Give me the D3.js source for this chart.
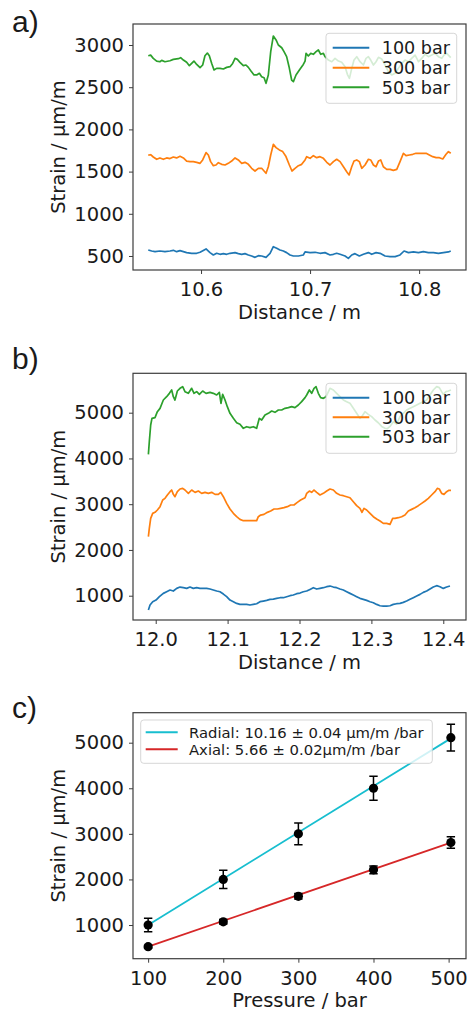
<!DOCTYPE html>
<html>
<head>
<meta charset="utf-8">
<script src="https://cdn.jsdelivr.net/npm/d3@7"></script>
<style>
  body { margin: 0; background: #fff; }
  svg { display: block; }
  text { font-family: "DejaVu Sans", sans-serif; fill: #1a1a1a; }
</style>
</head>
<body>
<svg id="fig" width="469" height="1012"></svg>
<script>
// ---------- a) strain along the fibre, 10.55 - 10.83 m ----------
const seriesNames = ["100 bar", "300 bar", "503 bar"];
const seriesColors = ["#1f77b4", "#ff7f0e", "#2ca02c"];

const strainA100 = [[10.5516,571],[10.5547,559],[10.5578,551],[10.5623,559],[10.5669,551],[10.5715,559],[10.5746,567],[10.5776,551],[10.5807,563],[10.5838,551],[10.5868,540],[10.5914,532],[10.5960,532],[10.5991,544],[10.6046,583],[10.6082,540],[10.6113,512],[10.6143,532],[10.6174,520],[10.6205,528],[10.6235,520],[10.6266,532],[10.6312,540],[10.6342,528],[10.6373,520],[10.6403,528],[10.6434,512],[10.6464,500],[10.6495,484],[10.6526,504],[10.6556,500],[10.6596,484],[10.6633,532],[10.6663,610],[10.6694,591],[10.6724,571],[10.6755,559],[10.6785,540],[10.6816,512],[10.6847,500],[10.6893,500],[10.6938,512],[10.6954,548],[10.7000,540],[10.7046,544],[10.7091,532],[10.7137,540],[10.7183,512],[10.7214,520],[10.7244,532],[10.7275,520],[10.7321,500],[10.7351,472],[10.7382,512],[10.7412,528],[10.7452,500],[10.7489,520],[10.7535,540],[10.7565,520],[10.7605,540],[10.7642,532],[10.7688,500],[10.7734,492],[10.7780,492],[10.7825,512],[10.7862,559],[10.7902,540],[10.7948,548],[10.7994,540],[10.8039,551],[10.8085,540],[10.8131,540],[10.8177,532],[10.8223,540],[10.8269,548],[10.8290,559]];

const strainA300 = [[10.5516,1696],[10.5538,1700],[10.5562,1673],[10.5593,1646],[10.5623,1662],[10.5654,1646],[10.5685,1662],[10.5715,1654],[10.5746,1673],[10.5776,1662],[10.5807,1681],[10.5838,1662],[10.5868,1625],[10.5899,1618],[10.5929,1618],[10.5960,1610],[10.5991,1598],[10.6015,1638],[10.6046,1725],[10.6067,1697],[10.6088,1618],[10.6113,1570],[10.6137,1578],[10.6159,1606],[10.6189,1586],[10.6220,1578],[10.6250,1598],[10.6281,1625],[10.6312,1662],[10.6342,1638],[10.6373,1598],[10.6403,1610],[10.6434,1586],[10.6464,1539],[10.6495,1507],[10.6526,1539],[10.6556,1539],[10.6578,1507],[10.6596,1480],[10.6617,1558],[10.6639,1697],[10.6663,1823],[10.6688,1784],[10.6718,1757],[10.6749,1737],[10.6779,1678],[10.6810,1578],[10.6834,1507],[10.6862,1539],[10.6893,1570],[10.6923,1586],[10.6954,1638],[10.6969,1677],[10.7000,1657],[10.7030,1689],[10.7061,1665],[10.7091,1677],[10.7122,1657],[10.7153,1610],[10.7183,1578],[10.7214,1618],[10.7244,1646],[10.7275,1618],[10.7306,1558],[10.7336,1499],[10.7358,1460],[10.7382,1558],[10.7403,1625],[10.7428,1638],[10.7452,1618],[10.7474,1539],[10.7504,1578],[10.7535,1646],[10.7556,1638],[10.7581,1578],[10.7605,1558],[10.7627,1625],[10.7648,1638],[10.7672,1558],[10.7703,1527],[10.7734,1527],[10.7764,1515],[10.7795,1527],[10.7825,1618],[10.7856,1717],[10.7880,1689],[10.7911,1697],[10.7942,1705],[10.7972,1717],[10.8003,1717],[10.8033,1717],[10.8064,1717],[10.8094,1697],[10.8125,1677],[10.8156,1665],[10.8186,1665],[10.8217,1650],[10.8247,1705],[10.8269,1737],[10.8290,1717]];

const strainA503 = [[10.5516,2873],[10.5538,2880],[10.5562,2842],[10.5593,2810],[10.5623,2802],[10.5639,2818],[10.5669,2802],[10.5715,2814],[10.5746,2830],[10.5792,2838],[10.5813,2850],[10.5838,2822],[10.5868,2795],[10.5893,2755],[10.5914,2782],[10.5935,2810],[10.5960,2770],[10.5991,2731],[10.6015,2763],[10.6036,2873],[10.6058,2905],[10.6076,2873],[10.6098,2782],[10.6119,2704],[10.6143,2723],[10.6174,2723],[10.6205,2716],[10.6235,2735],[10.6266,2743],[10.6290,2782],[10.6312,2842],[10.6333,2830],[10.6357,2795],[10.6388,2755],[10.6412,2763],[10.6434,2735],[10.6458,2692],[10.6486,2645],[10.6510,2645],[10.6535,2665],[10.6556,2625],[10.6578,2613],[10.6596,2546],[10.6617,2645],[10.6639,2921],[10.6663,3107],[10.6688,3060],[10.6709,3000],[10.6740,2968],[10.6761,2921],[10.6785,2862],[10.6807,2743],[10.6831,2585],[10.6847,2566],[10.6871,2645],[10.6902,2704],[10.6938,2770],[10.6954,2810],[10.6963,2901],[10.6984,2870],[10.7006,2901],[10.7030,2890],[10.7055,2921],[10.7076,2941],[10.7098,2890],[10.7122,2901],[10.7137,2862],[10.7168,2822],[10.7199,2802],[10.7229,2842],[10.7260,2810],[10.7290,2795],[10.7321,2743],[10.7342,2653],[10.7361,2605],[10.7382,2723],[10.7403,2822],[10.7428,2862],[10.7458,2802],[10.7489,2763],[10.7513,2842],[10.7535,2862],[10.7556,2822],[10.7581,2763],[10.7605,2802],[10.7627,2854],[10.7657,2834],[10.7688,2763],[10.7718,2684],[10.7749,2645],[10.7780,2665],[10.7810,2723],[10.7841,2782],[10.7871,2822],[10.7902,2802],[10.7932,2842],[10.7963,2881],[10.7994,2802],[10.8024,2842],[10.8055,2890],[10.8085,2862],[10.8116,2881],[10.8146,2901],[10.8177,2862],[10.8208,2842],[10.8229,2881],[10.8253,2901],[10.8290,2850]];

// ---------- b) strain along the fibre, 11.99 - 12.41 m ----------
const strainB100 = [[11.9898,687],[11.9921,796],[11.9958,869],[12.0004,905],[12.0051,978],[12.0106,1051],[12.0152,1087],[12.0199,1124],[12.0245,1102],[12.0292,1160],[12.0338,1189],[12.0384,1175],[12.0431,1160],[12.0477,1189],[12.0523,1160],[12.0570,1175],[12.0616,1160],[12.0663,1160],[12.0709,1160],[12.0755,1146],[12.0801,1124],[12.0848,1102],[12.0894,1087],[12.0941,1036],[12.0987,978],[12.1033,905],[12.1080,869],[12.1126,832],[12.1172,810],[12.1219,810],[12.1265,810],[12.1311,796],[12.1358,810],[12.1404,825],[12.1451,869],[12.1497,883],[12.1543,898],[12.1590,920],[12.1636,927],[12.1682,942],[12.1729,956],[12.1775,956],[12.1822,978],[12.1868,1000],[12.1914,1015],[12.1961,1044],[12.2007,1058],[12.2053,1087],[12.2100,1102],[12.2146,1138],[12.2192,1175],[12.2239,1146],[12.2285,1160],[12.2332,1175],[12.2378,1197],[12.2424,1211],[12.2471,1189],[12.2517,1175],[12.2563,1146],[12.2610,1124],[12.2656,1087],[12.2702,1051],[12.2749,1015],[12.2795,978],[12.2841,942],[12.2888,920],[12.2934,898],[12.2981,869],[12.3027,847],[12.3073,810],[12.3120,781],[12.3166,774],[12.3212,774],[12.3259,781],[12.3305,810],[12.3351,825],[12.3398,832],[12.3444,854],[12.3490,883],[12.3537,920],[12.3583,956],[12.3630,993],[12.3676,1029],[12.3722,1073],[12.3769,1102],[12.3815,1146],[12.3861,1189],[12.3908,1219],[12.3954,1197],[12.4000,1160],[12.4047,1189],[12.4093,1211]];

const strainB300 = [[11.9898,2290],[11.9911,2472],[11.9930,2691],[11.9958,2800],[11.9990,2822],[12.0023,2873],[12.0060,2946],[12.0097,3091],[12.0129,3128],[12.0162,3201],[12.0199,3273],[12.0222,3310],[12.0245,3215],[12.0268,3164],[12.0301,3273],[12.0338,3332],[12.0375,3346],[12.0407,3310],[12.0454,3237],[12.0500,3310],[12.0547,3259],[12.0593,3288],[12.0639,3237],[12.0686,3259],[12.0732,3237],[12.0778,3259],[12.0825,3215],[12.0871,3215],[12.0904,3259],[12.0941,3164],[12.0987,3018],[12.1033,2895],[12.1080,2800],[12.1126,2727],[12.1172,2669],[12.1219,2640],[12.1265,2640],[12.1311,2640],[12.1358,2640],[12.1404,2640],[12.1427,2727],[12.1460,2763],[12.1506,2778],[12.1553,2822],[12.1599,2851],[12.1646,2895],[12.1692,2895],[12.1738,2909],[12.1784,2924],[12.1831,2946],[12.1877,2982],[12.1923,2982],[12.1970,3040],[12.2016,3091],[12.2077,3142],[12.2100,3237],[12.2137,3288],[12.2169,3259],[12.2202,3310],[12.2239,3259],[12.2285,3201],[12.2332,3237],[12.2378,3288],[12.2424,3332],[12.2471,3310],[12.2517,3237],[12.2563,3201],[12.2610,3186],[12.2656,3164],[12.2702,3142],[12.2749,3055],[12.2795,2968],[12.2841,2909],[12.2869,2822],[12.2897,2909],[12.2934,2873],[12.2981,2800],[12.3027,2727],[12.3073,2676],[12.3120,2632],[12.3166,2581],[12.3212,2581],[12.3259,2560],[12.3296,2691],[12.3328,2691],[12.3375,2705],[12.3421,2727],[12.3467,2763],[12.3514,2851],[12.3560,2887],[12.3606,2924],[12.3653,2968],[12.3699,3018],[12.3746,3070],[12.3792,3128],[12.3838,3201],[12.3885,3273],[12.3917,3346],[12.3945,3332],[12.3977,3237],[12.4010,3215],[12.4047,3273],[12.4079,3303],[12.4107,3303]];

const strainB503 = [[11.9898,4090],[11.9911,4367],[11.9930,4731],[11.9948,4877],[11.9990,4891],[12.0023,5022],[12.0060,5095],[12.0106,5277],[12.0152,5350],[12.0190,5423],[12.0222,5496],[12.0245,5350],[12.0268,5277],[12.0301,5474],[12.0338,5533],[12.0375,5569],[12.0407,5460],[12.0454,5423],[12.0500,5533],[12.0533,5423],[12.0570,5460],[12.0607,5401],[12.0653,5474],[12.0700,5423],[12.0755,5445],[12.0801,5423],[12.0848,5387],[12.0885,5445],[12.0908,5205],[12.0931,5401],[12.0964,5277],[12.0996,5132],[12.1033,4986],[12.1080,4877],[12.1126,4782],[12.1172,4746],[12.1219,4658],[12.1265,4694],[12.1311,4673],[12.1358,4694],[12.1404,4658],[12.1441,4877],[12.1474,4840],[12.1520,4950],[12.1567,4986],[12.1613,5037],[12.1659,5008],[12.1706,5059],[12.1752,5059],[12.1798,5095],[12.1845,5110],[12.1891,5132],[12.1937,5110],[12.1984,5168],[12.2030,5241],[12.2077,5330],[12.2100,5387],[12.2137,5496],[12.2169,5423],[12.2202,5533],[12.2230,5569],[12.2262,5423],[12.2294,5328],[12.2332,5314],[12.2369,5350],[12.2424,5533],[12.2471,5496],[12.2517,5423],[12.2563,5350],[12.2610,5277],[12.2656,5241],[12.2702,5205],[12.2749,5095],[12.2795,4986],[12.2841,4877],[12.2865,4913],[12.2911,5022],[12.2957,4964],[12.3004,4913],[12.3050,4840],[12.3096,4780],[12.3143,4700],[12.3189,4660],[12.3222,4650],[12.3259,4700],[12.3305,4800],[12.3351,4750],[12.3398,4913],[12.3444,4986],[12.3490,5059],[12.3537,5095],[12.3583,5132],[12.3630,5168],[12.3676,5205],[12.3722,5241],[12.3769,5277],[12.3815,5387],[12.3861,5496],[12.3908,5569],[12.3945,5547],[12.3977,5460],[12.4000,5401],[12.4037,5460],[12.4070,5474],[12.4107,5496]];

// ---------- c) strain versus pressure ----------
const pressures = [100, 200, 300, 400, 503];
const radialStrain = [1000, 2000, 3000, 4000, 5110];
const radialError = [150, 200, 237, 263, 292];
const axialStrain = [525, 1071, 1630, 2210, 2810];
const axialError = [30, 50, 60, 85, 125];
const radialFit = { slope: 10.16, intercept: -16 };
const axialFit = { slope: 5.66, intercept: -41 };
const fitLabels = ["Radial: 10.16 \u00b1 0.04 \u00b5m/m /bar", "Axial: 5.66 \u00b1 0.02\u00b5m/m /bar"];
const fitColors = ["#17becf", "#d62728"];

// tick values
const ticksAX = [10.6, 10.7, 10.8];
const ticksAY = [500, 1000, 1500, 2000, 2500, 3000];
const ticksBX = [12.0, 12.1, 12.2, 12.3, 12.4];
const ticksBY = [1000, 2000, 3000, 4000, 5000];
const ticksCX = [100, 200, 300, 400, 500];
const ticksCY = [1000, 2000, 3000, 4000, 5000];

// ---------- drawing ----------
const svg = d3.select("#fig");
const left = 133, right = 466;
const tickFont = 19.5;
const ink = "#1a1a1a";
const spine = "#3d3d3d";

function makeAxes(cfg) {
  const x = d3.scaleLinear().domain(cfg.xDomain).range([left, right]);
  const y = d3.scaleLinear().domain(cfg.yDomain).range([cfg.bottom, cfg.top]);
  const g = svg.append("g");

  const gx = g.append("g")
    .attr("transform", `translate(0,${cfg.bottom})`)
    .call(d3.axisBottom(x).tickValues(cfg.xTicks).tickFormat(cfg.xFormat)
      .tickSize(4).tickSizeOuter(0).tickPadding(8));
  const gy = g.append("g")
    .attr("transform", `translate(${left},0)`)
    .call(d3.axisLeft(y).tickValues(cfg.yTicks).tickFormat(d3.format("d"))
      .tickSize(4).tickSizeOuter(0).tickPadding(5));
  [gx, gy].forEach(a => {
    a.select(".domain").remove();
    a.selectAll(".tick line").attr("stroke", spine).attr("stroke-width", 1);
    a.selectAll(".tick text").attr("fill", ink)
      .style("font-family", '"DejaVu Sans", sans-serif').style("font-size", tickFont + "px");
  });

  // axis titles
  g.append("text").attr("x", (left + right) / 2).attr("y", cfg.bottom + 48.5)
    .attr("text-anchor", "middle").style("font-size", tickFont + "px").text(cfg.xLabel);
  g.append("text")
    .attr("transform", `translate(65,${(cfg.top + cfg.bottom) / 2}) rotate(-90)`)
    .attr("text-anchor", "middle").style("font-size", tickFont + "px").text("Strain / \u00b5m/m");

  // panel tag
  g.append("text").attr("x", 12).attr("y", cfg.tagY)
    .style("font-family", '"Liberation Sans", Arial, sans-serif').style("font-size", "30px")
    .text(cfg.tag);

  const clipId = "clip-" + cfg.tag.replace(")", "");
  g.append("clipPath").attr("id", clipId).append("rect")
    .attr("x", left).attr("y", cfg.top).attr("width", right - left).attr("height", cfg.bottom - cfg.top);
  const plot = g.append("g").attr("clip-path", `url(#${clipId})`);

  return { x, y, g, plot, cfg };
}

function frame(ax) {
  ax.g.append("rect").attr("x", left).attr("y", ax.cfg.top)
    .attr("width", right - left).attr("height", ax.cfg.bottom - ax.cfg.top)
    .attr("fill", "none").attr("stroke", spine).attr("stroke-width", 1.2);
}

function legend(ax, box, rows, names, colors, font, handle, textX) {
  const lg = ax.g.append("g");
  lg.append("rect").attr("x", box[0]).attr("y", box[1]).attr("width", box[2]).attr("height", box[3])
    .attr("rx", 3).attr("fill", "#fff").attr("fill-opacity", 0.8)
    .attr("stroke", "#cccccc").attr("stroke-opacity", 0.8).attr("stroke-width", 1);
  names.forEach((n, i) => {
    lg.append("line").attr("x1", handle[0]).attr("x2", handle[1])
      .attr("y1", rows[i]).attr("y2", rows[i])
      .attr("stroke", colors[i]).attr("stroke-width", 2);
    lg.append("text").attr("x", textX).attr("y", rows[i]).attr("dy", "0.36em")
      .style("font-size", font + "px").text(n);
  });
}

function traces(ax, list) {
  const line = d3.line().x(d => ax.x(d[0])).y(d => ax.y(d[1]));
  list.forEach((s, i) => {
    ax.plot.append("path").datum(s).attr("d", line)
      .attr("fill", "none").attr("stroke", seriesColors[i])
      .attr("stroke-width", 1.7).attr("stroke-linejoin", "round");
  });
}

// panel a
const axA = makeAxes({
  top: 24, bottom: 270, xDomain: [10.5376, 10.843], yDomain: [334, 3249],
  xTicks: ticksAX, yTicks: ticksAY, xFormat: d3.format(".1f"),
  xLabel: "Distance / m", tag: "a)", tagY: 32
});
traces(axA, [strainA100, strainA300, strainA503]);
frame(axA);
legend(axA, [326, 33.3, 130.7, 70], [47.7, 67.7, 87.3], seriesNames, seriesColors, 17.6, [332.7, 369.3], 381.7);

// panel b
const axB = makeAxes({
  top: 373.3, bottom: 620, xDomain: [11.9684, 12.4316], yDomain: [469, 5861],
  xTicks: ticksBX, yTicks: ticksBY, xFormat: d3.format(".1f"),
  xLabel: "Distance / m", tag: "b)", tagY: 369
});
traces(axB, [strainB100, strainB300, strainB503]);
frame(axB);
legend(axB, [326, 383.3, 130.7, 70], [397.7, 417.3, 436.7], seriesNames, seriesColors, 17.6, [332.7, 369.3], 381.7);

// panel c
const axC = makeAxes({
  top: 712.7, bottom: 958.7, xDomain: [79.85, 523.15], yDomain: [261, 5658],
  xTicks: ticksCX, yTicks: ticksCY, xFormat: d3.format("d"),
  xLabel: "Pressure / bar", tag: "c)", tagY: 718
});
const pRange = d3.extent(pressures);
[radialFit, axialFit].forEach((f, i) => {
  axC.plot.append("line")
    .attr("x1", axC.x(pRange[0])).attr("y1", axC.y(f.slope * pRange[0] + f.intercept))
    .attr("x2", axC.x(pRange[1])).attr("y2", axC.y(f.slope * pRange[1] + f.intercept))
    .attr("stroke", fitColors[i]).attr("stroke-width", 1.8);
});
[[radialStrain, radialError], [axialStrain, axialError]].forEach(([vals, errs]) => {
  pressures.forEach((p, i) => {
    const cx = axC.x(p);
    const y0 = axC.y(vals[i] - errs[i]), y1 = axC.y(vals[i] + errs[i]);
    axC.plot.append("line").attr("x1", cx).attr("x2", cx).attr("y1", y0).attr("y2", y1)
      .attr("stroke", "#000").attr("stroke-width", 1.5);
    [y0, y1].forEach(yy => axC.plot.append("line")
      .attr("x1", cx - 4.2).attr("x2", cx + 4.2).attr("y1", yy).attr("y2", yy)
      .attr("stroke", "#000").attr("stroke-width", 1.5));
    axC.plot.append("circle").attr("cx", cx).attr("cy", axC.y(vals[i])).attr("r", 4.6).attr("fill", "#000");
  });
});
frame(axC);
legend(axC, [140.7, 720, 291.6, 43.3], [732.3, 749.3], fitLabels, fitColors, 14.8, [145.7, 177.7], 189);
</script>
</body>
</html>
